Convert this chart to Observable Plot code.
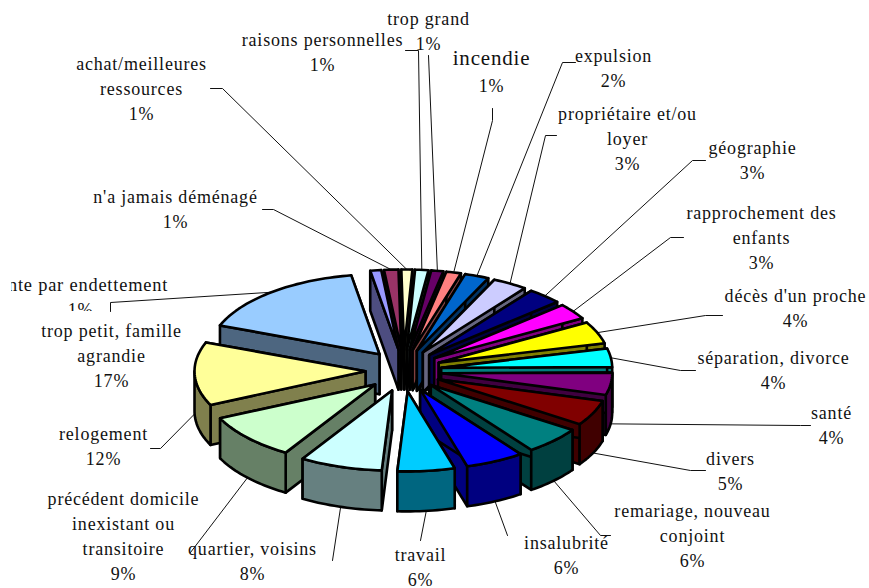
<!DOCTYPE html>
<html><head><meta charset="utf-8">
<style>html,body{margin:0;padding:0;background:#fff}svg{display:block}</style>
<script src="https://cdn.jsdelivr.net/npm/d3@7"></script>
<script src="https://cdn.jsdelivr.net/npm/@observablehq/plot@0.6"></script>
</head><body><div id="c"></div>
<script>
// clockwise from the top of the pie
const shares = [1.03,1.35,1.03,1.25,1.14,1.4,2.3,3.3,3.3,3.2,4.45,3.75,4.5,5.1,5.55,5.55,5.4,7.8,9.3,12.8,16.5];
const colors = ["#9999ff","#993366","#ffffcc","#ccffff","#660066","#ff8080","#0066cc","#ccccff","#000080","#ff00ff","#ffff00","#00ffff","#800080","#800000","#008080","#0000ff","#00ccff","#ccffff","#ccffcc","#ffff99","#99ccff"];
const names = ["vente par endettement","n'a jamais déménagé","achat/meilleures\nressources","raisons personnelles","trop grand","incendie","expulsion","propriétaire et/ou\nloyer","géographie","rapprochement des\nenfants","décès d'un proche","séparation, divorce","santé","divers","remariage, nouveau\nconjoint","insalubrité","travail","quartier, voisins","précédent domicile\ninexistant ou\ntransitoire","relogement","trop petit, famille\nagrandie"];
const percents = [1,1,1,1,1,1,2,3,3,3,4,4,4,5,6,6,6,8,9,12,17];

// layout (label centres and leader elbows, in page pixels), same order as names
const labelX = [77,175,141,322,428,491,613,627,752,761,795,773,831,730,692,566,420,252,123,103,111];
const labelY = [285,209,88,52,31,74,68,138,160,237,308,370,425,471,535,555,567,561,536,446,355];
const elbows = [[[110,311],[110,302]],[[262,209],[273,209]],[[210,88],[222,88]],[[405,50],[418,50]],[[428,55]],[[492,108],[492,120]],[[575,62],[562,62]],[[556,135],[545,135]],[[705,160],[692,160]],[[683,237],[670,237]],[[722,315],[705,315]],[[695,370],[680,370]],[[810,425],[800,425]],[[705,470],[690,470]],[[610,535],[600,535]],[[507,535]],[[420,540]],[[332,560]],[[190,552]],[[150,448],[160,448]]];
const leaderSlice = [20,1,2,3,4,5,6,7,8,9,10,11,12,13,14,15,16,17,18,19];

// pie geometry
const cx=403, cy=370, ex=38, ey=21, rx=171, ry=80, depth=40, start=350.5;
const rad=d=>d*Math.PI/180, total=d3.sum(shares);
const half=c=>{const k=d3.rgb(c);return d3.rgb(k.r/2,k.g/2,k.b/2).formatHex();};
let acc=0;
const slices=shares.map((v,i)=>{const a=start+acc/total*360;acc+=v;const b=start+acc/total*360;const m=(a+b)/2;
  return {i,a,b,m,ax:cx+ex*Math.sin(rad(m)),ay:cy-ey*Math.cos(rad(m)),color:colors[i]};});
const pt=(s,t)=>[s.ax+rx*Math.sin(rad(t)),s.ay-ry*Math.cos(rad(t))];
const arc=(s,a,b)=>{const n=Math.max(2,Math.ceil((b-a)/1.5));return d3.range(n+1).map(k=>pt(s,a+(b-a)*k/n));};
const faces=[];
const push=(id,pts,fill)=>pts.forEach(p=>faces.push({x:p[0],y:p[1],id,fill}));
[...slices].sort((p,q)=>Math.cos(rad(q.m))-Math.cos(rad(p.m))).forEach(s=>{
  const side=half(s.color), A=[s.ax,s.ay], pa=pt(s,s.a), pb=pt(s,s.b);
  const down=p=>[p[0],p[1]+depth];
  push(s.i+"e",[A,pb,down(pb),down(A)],side);
  push(s.i+"s",[A,pa,down(pa),down(A)],side);
  const lo=Math.max(s.a%360,90), hi=Math.min(s.b%360||360,270);
  if(s.a%360<270 && s.b%360>90 && hi>lo){const t=arc(s,lo,hi);push(s.i+"w",[...t,...t.slice().reverse().map(down)],side);}
  push(s.i+"t",[A,...arc(s,s.a,s.b)],s.color);
});
const leaders=[];
leaderSlice.forEach((si,k)=>{const s=slices[si];const m=s.m%360;let e=pt(s,m);if(m>=95&&m<275)e=[e[0],e[1]+depth];
  [...elbows[k],e].forEach(p=>leaders.push({x:p[0],y:p[1],k}));});
const labels=names.map((n,i)=> (i===5||i===0)?null:{t:n+"\n"+percents[i]+"%",x:labelX[i],y:labelY[i]}).filter(Boolean);
const fire={x:491,y:60,t:"incendie",fs:21}, firePct={x:491,y:88,t:"1%",fs:18};
const textOpts={x:"x",y:"y",text:"t",fontFamily:"Liberation Serif",fill:"#111"};

const plot=Plot.plot({width:869,height:588,margin:0,style:{letterSpacing:"0.8px"},
  x:{domain:[0,869],range:[0,869],axis:null},y:{domain:[0,588],range:[0,588],axis:null},
  marks:[
    Plot.text([{t:"V"+names[0].slice(1),x:labelX[0],y:labelY[0],fs:18.4},{t:percents[0]+"%",x:80,y:310,fs:18}],{...textOpts,fontSize:"fs"}),
    Plot.rect([{a:0,b:200,c:311,d:395},{a:0,b:11,c:270,d:300}],{x1:"a",x2:"b",y1:"c",y2:"d",fill:"white"}),
    Plot.line(leaders,{x:"x",y:"y",z:"k",stroke:"#111",strokeWidth:1}),
    Plot.line(faces,{x:"x",y:"y",z:"id",fill:"fill",stroke:"black",strokeWidth:2.6,curve:"linear-closed",strokeLinejoin:"round"}),
    Plot.text(labels,{...textOpts,fontSize:18,lineHeight:1.39,dy:-2}),
    Plot.text([fire,firePct],{...textOpts,fontSize:"fs",dy:-2})
  ]});
document.getElementById("c").append(plot);
</script></body></html>
